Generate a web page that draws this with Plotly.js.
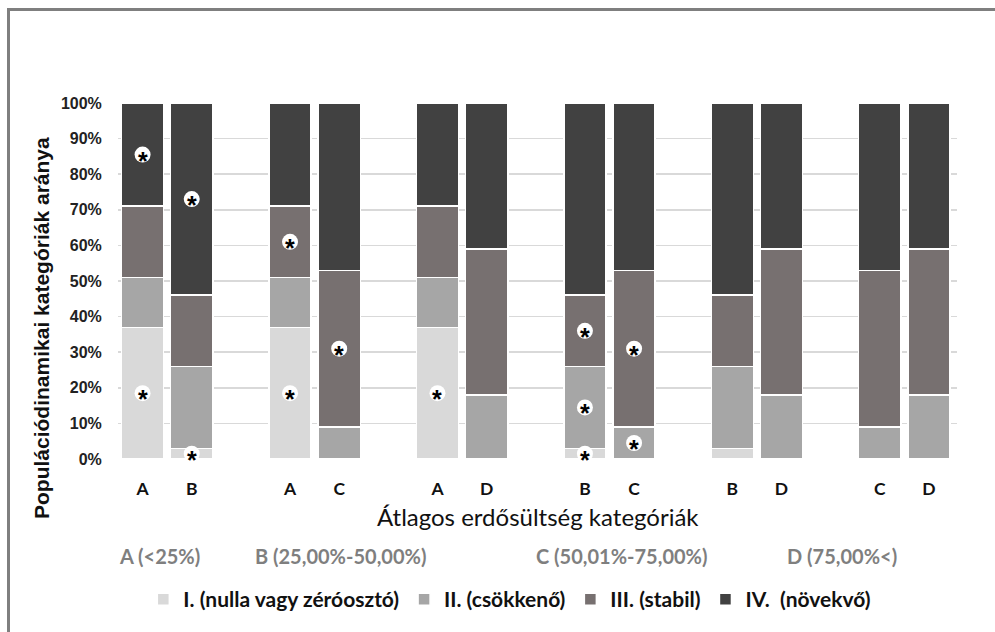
<!DOCTYPE html>
<html>
<head>
<meta charset="utf-8">
<script src="https://cdn.plot.ly/plotly-3.0.1.min.js"></script>
<style>
  html, body { margin: 0; padding: 0; background: #fff; }
  #wrap { position: relative; width: 995px; height: 632px; overflow: hidden; }
  #chart { width: 995px; height: 632px; }
  #frame { position: absolute; left: 7px; top: 8px; width: 1100px; height: 700px;
           border-left: 3px solid #7f7f7f; border-top: 3px solid #7f7f7f; pointer-events: none; }
</style>
</head>
<body>
<div id="wrap"><div id="chart"></div><div id="frame"></div></div>
<script>
// ---- data ----
const groups = [["A","B"],["A","C"],["A","D"],["B","C"],["B","D"],["C","D"]];
const seriesNames = ["I. (nulla vagy zéróosztó)", "II. (csökkenő)", "III. (stabil)", "IV.  (növekvő)"];
const seriesI   = [37, 3, 37, 0, 37, 0, 3, 0, 3, 0, 0, 0];
const seriesII  = [14, 23, 14, 9, 14, 18, 23, 9, 23, 18, 9, 18];
const seriesIII = [20, 20, 20, 44, 20, 41, 20, 44, 20, 41, 44, 41];
const seriesIV  = [29, 54, 29, 47, 29, 41, 54, 47, 54, 41, 47, 41];
// significance marks (*) per series per bar
const sigI   = [1, 1, 1, 0, 1, 0, 1, 0, 0, 0, 0, 0];
const sigII  = [0, 0, 0, 0, 0, 0, 1, 1, 0, 0, 0, 0];
const sigIII = [0, 0, 1, 1, 0, 0, 1, 1, 0, 0, 0, 0];
const sigIV  = [1, 1, 0, 0, 0, 0, 0, 0, 0, 0, 0, 0];
const categoryLegend = ["A (<25%)", "B (25,00%-50,00%)", "C (50,01%-75,00%)", "D (75,00%<)"];
const yTitle = "Populációdinamikai kategóriák aránya";
const xTitle = "Átlagos erdősültség kategóriák";

// ---- build ----
const xs = [], labels = [];
groups.forEach((g, gi) => g.forEach((c, ci) => { xs.push(gi * 3 + ci); labels.push(c); }));

const colors = ["#d9d9d9", "#a6a6a6", "#777070", "#414141"];
const allSeries = [seriesI, seriesII, seriesIII, seriesIV];
const allSig = [sigI, sigII, sigIII, sigIV];

const traces = allSeries.map((vals, i) => ({
  type: "bar", x: xs, y: vals, name: seriesNames[i],
  marker: { color: colors[i], line: { color: "#ffffff", width: 1.5 } },
  width: 0.86, hoverinfo: "y+name"
}));

const starX = [], starY = [];
allSeries.forEach((vals, si) => {
  vals.forEach((v, bi) => {
    if (allSig[si][bi]) {
      let base = 0;
      for (let k = 0; k < si; k++) base += allSeries[k][bi];
      starX.push(xs[bi]); starY.push(base + v / 2);
    }
  });
});
traces.push({
  type: "scatter", mode: "markers", x: starX, y: starY, showlegend: false, hoverinfo: "skip",
  marker: { color: "#ffffff", size: 16, line: { width: 0 } }
});

const annotations = starX.map((x, i) => ({
  x: x, y: starY[i], xref: "x", yref: "y", text: "*", showarrow: false, yshift: -6,
  font: { family: "Liberation Sans, Arial", size: 25, color: "#000", weight: 700 }
}));
const descX = [0.05, 0.265, 0.60, 0.863];
categoryLegend.forEach((t, i) => annotations.push({
  x: descX[i], y: -0.273, xref: "paper", yref: "paper", xanchor: "center", yanchor: "middle",
  text: t, showarrow: false,
  font: { family: "Lato, Open Sans, sans-serif", size: 20, color: "#7f7f7f", weight: 700 }
}));
annotations.push({
  x: -0.0906, y: 0.368, xref: "paper", yref: "paper", xanchor: "center", yanchor: "middle",
  text: yTitle, showarrow: false, textangle: -90,
  font: { family: "Liberation Sans, Arial", size: 21, color: "#111", weight: 700 }
});
annotations.push({
  x: 0.5, y: -0.1616, xref: "paper", yref: "paper", xanchor: "center", yanchor: "middle",
  text: xTitle, showarrow: false,
  font: { family: "Lato, Open Sans, sans-serif", size: 24, color: "#111" }
});

const layout = {
  width: 995, height: 632,
  margin: { l: 118, r: 38, t: 103, b: 170 },
  paper_bgcolor: "#ffffff", plot_bgcolor: "#ffffff",
  barmode: "stack", showlegend: true,
  xaxis: {
    range: [-0.5, 16.57], tickvals: xs, ticktext: labels,
    ticks: "outside", ticklen: 14, tickcolor: "rgba(0,0,0,0)",
    showgrid: false, zeroline: false, showline: false,
    tickfont: { family: "Lato, Open Sans, sans-serif", size: 17.5, color: "#111", weight: 700 }
  },
  yaxis: {
    range: [0, 100], dtick: 10, ticksuffix: "%",
    ticks: "outside", ticklen: 12, tickcolor: "rgba(0,0,0,0)",
    showgrid: true, gridcolor: "#d9d9d9", gridwidth: 1.5, zeroline: false, showline: false,
    tickfont: { family: "Liberation Sans, Arial", size: 16, color: "#222", weight: 700 }
  },
  legend: {
    orientation: "h", x: 0.467, xanchor: "center", y: -0.395, yanchor: "middle",
    font: { family: "Lato, Open Sans, sans-serif", size: 21, color: "#111", weight: 700 },
    traceorder: "normal", itemwidth: 30
  },
  annotations: annotations
};

Plotly.newPlot("chart", traces, layout, { displayModeBar: false, staticPlot: true });
</script>
</body>
</html>
